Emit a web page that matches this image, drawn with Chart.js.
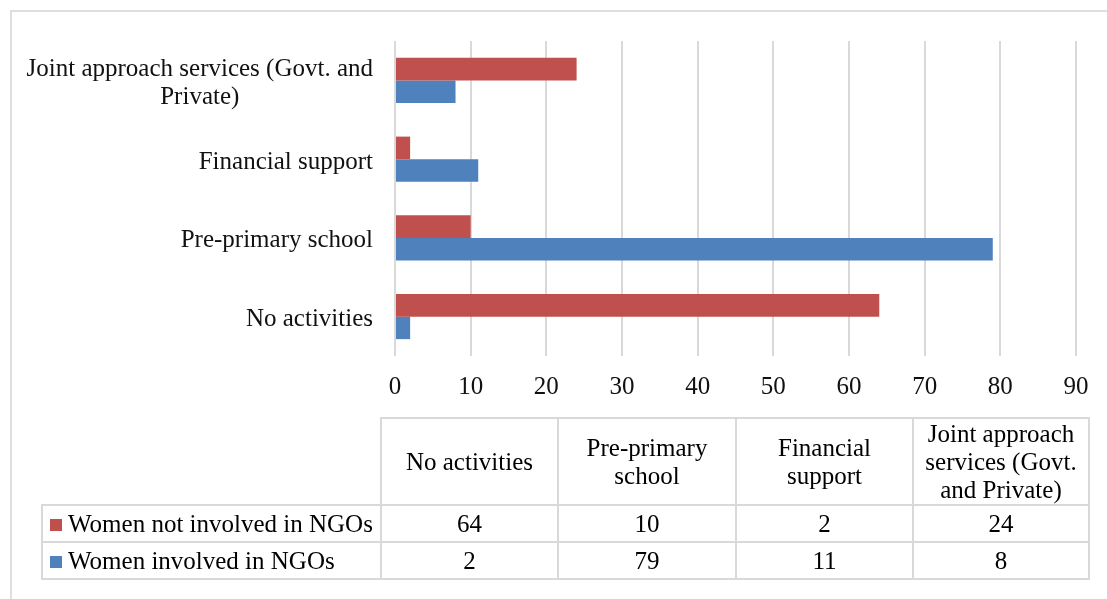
<!DOCTYPE html>
<html>
<head>
<meta charset="utf-8">
<script src="https://cdn.jsdelivr.net/npm/chart.js@4.4.0/dist/chart.umd.min.js"></script>
<style>
  html, body { margin: 0; padding: 0; background: #fff; overflow: hidden; }
  body { width: 1107px; height: 599px; position: relative; font-family: 'Liberation Serif', 'Times New Roman', serif; }
  .frame { position: absolute; left: 10px; top: 10px; width: 1200px; height: 700px; border: 2px solid #dedede; box-sizing: border-box; }
  #wrap { position: absolute; left: 0; top: 0; width: 1107px; height: 420px; }
  #dataTable { position: absolute; left: 41px; top: 417px; border-collapse: collapse; table-layout: fixed; font-size: 25px; color: #000; }
  #dataTable td { border: 2px solid #d9d9d9; text-align: center; padding: 0 9px; line-height: 28px; }
  #dataTable tr.head td { height: 85px; }
  #dataTable tr.row td { height: 35px; }
  #dataTable td.blank { border: none; }
  #dataTable td.name { text-align: left; padding: 0 0 0 7px; white-space: nowrap; overflow: hidden; }
  .key { display: inline-block; width: 12px; height: 12px; margin-right: 6px; vertical-align: 1px; }
</style>
</head>
<body>
<div class="frame"></div>
<div id="wrap"><canvas id="barChart" width="1107" height="420"></canvas></div>
<table id="dataTable"></table>
<script>
const categories = ['No activities', 'Pre-primary school', 'Financial support', 'Joint approach services (Govt. and Private)'];
const seriesNames = ['Women not involved in NGOs', 'Women involved in NGOs'];
const notInvolved = [64, 10, 2, 24];
const involved = [2, 79, 11, 8];
const seriesColors = ['#C0504D', '#4F81BD'];
const axisMin = 0;
const axisMax = 90;
const axisStep = 10;

const labelFont = '25px "Liberation Serif", "Times New Roman", serif';
const textColor = '#111';

// category axis reads bottom-up, so feed the chart reversed copies
const rev = arr => arr.slice().reverse();

// wraps a label onto several lines and centres the lines on each other
const yLabelPlugin = {
  id: 'yLabels',
  afterDraw(chart) {
    const { ctx, scales: { y } } = chart;
    const right = 373;
    const maxWidth = 350;
    const lineH = 28;
    ctx.save();
    ctx.font = labelFont;
    ctx.fillStyle = textColor;
    ctx.textBaseline = 'middle';
    ctx.textAlign = 'center';
    y.getLabels().forEach((label, i) => {
      const lines = [];
      let cur = '';
      label.split(' ').forEach(word => {
        const test = cur ? cur + ' ' + word : word;
        if (cur && ctx.measureText(test).width > maxWidth) {
          lines.push(cur);
          cur = word;
        } else {
          cur = test;
        }
      });
      lines.push(cur);
      const widest = Math.max(...lines.map(l => ctx.measureText(l).width));
      const cx = right - widest / 2;
      const yc = y.getPixelForTick(i) + 3;
      lines.forEach((line, k) => {
        ctx.fillText(line, cx, yc + (k - (lines.length - 1) / 2) * lineH);
      });
    });
    ctx.restore();
  }
};

new Chart(document.getElementById('barChart'), {
  type: 'bar',
  data: {
    labels: rev(categories),
    datasets: [
      { label: seriesNames[0], data: rev(notInvolved), backgroundColor: seriesColors[0] },
      { label: seriesNames[1], data: rev(involved), backgroundColor: seriesColors[1] }
    ]
  },
  options: {
    indexAxis: 'y',
    responsive: false,
    animation: false,
    layout: { padding: { top: 41, right: 31, left: 0, bottom: 0 } },
    datasets: { bar: { categoryPercentage: 0.572, barPercentage: 1 } },
    plugins: { legend: { display: false }, tooltip: { enabled: false } },
    scales: {
      x: {
        min: axisMin,
        max: axisMax,
        ticks: { stepSize: axisStep, color: textColor, padding: 16, font: { family: '"Liberation Serif", "Times New Roman", serif', size: 25 } },
        grid: { color: '#d9d9d9', lineWidth: 2, drawTicks: false },
        border: { display: false },
        afterFit: s => { s.height = 64; }
      },
      y: {
        ticks: { display: false },
        grid: { display: false },
        border: { display: false },
        afterFit: s => { s.width = 395; }
      }
    }
  },
  plugins: [yLabelPlugin]
});

// data table under the chart
const table = document.getElementById('dataTable');
const colWidths = [339, 177, 178, 177, 176];
let html = '<colgroup>' + colWidths.map(w => `<col style="width:${w}px">`).join('') + '</colgroup>';
html += '<tr class="head"><td class="blank"></td>' + categories.map(c => `<td>${c}</td>`).join('') + '</tr>';
[notInvolved, involved].forEach((vals, s) => {
  html += `<tr class="row"><td class="name"><span class="key" style="background:${seriesColors[s]}"></span>${seriesNames[s]}</td>` +
    vals.map(v => `<td>${v}</td>`).join('') + '</tr>';
});
table.innerHTML = html;
</script>
</body>
</html>
